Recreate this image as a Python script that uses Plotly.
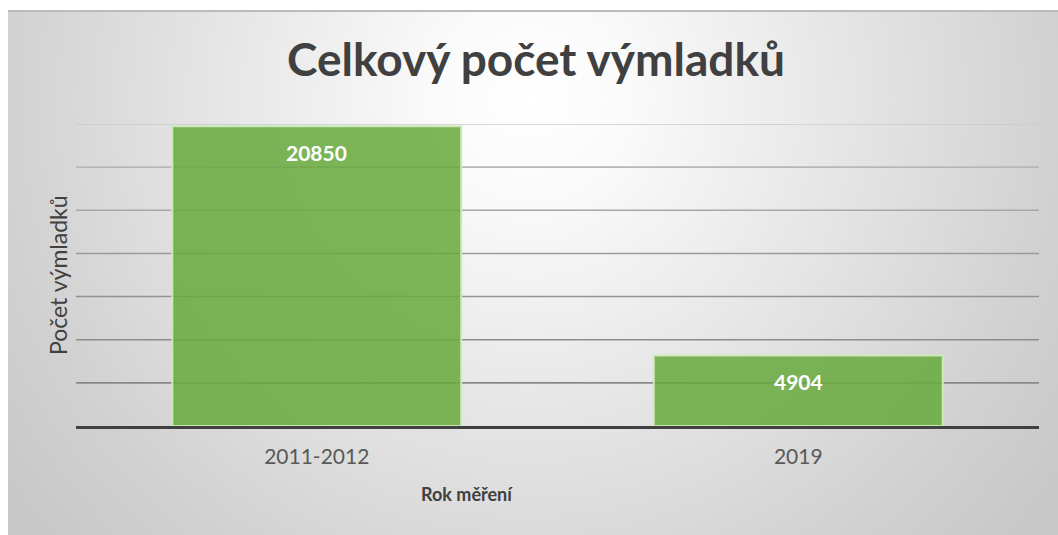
import base64
import plotly.graph_objects as go

# ---- data ----
categories = ["2011-2012", "2019"]
counts = [20850, 4904]
grid_values = [3000, 6000, 9000, 12000, 15000, 18000, 21000]
y_max = 21000

title_text = "Celkový počet výmladků"
x_title = "Rok měření"
y_title = "Počet výmladků"

W, H = 1058, 535
FONT = "Lato"


def fx(p):
    return p / W


def fy(p):
    return 1 - p / H


# background radial gradient as an inline SVG image
svg = """<svg xmlns="http://www.w3.org/2000/svg" width="1050" height="525">
<defs><radialGradient id="g" gradientUnits="userSpaceOnUse" cx="522" cy="90" r="650">
<stop offset="0" stop-color="#ffffff"/>
<stop offset="0.15" stop-color="#fafafa"/>
<stop offset="0.8" stop-color="#d2d2d2"/>
<stop offset="1" stop-color="#c8c8c8"/>
</radialGradient></defs>
<rect width="1050" height="525" fill="url(#g)"/>
<rect width="1050" height="2" fill="#bcbcbc"/>
</svg>"""
svg_uri = "data:image/svg+xml;base64," + base64.b64encode(svg.encode("utf-8")).decode("ascii")

fig = go.Figure()
fig.add_trace(
    go.Bar(
        x=categories,
        y=counts,
        marker=dict(
            color="rgba(104,170,62,0.86)",
            line=dict(color="rgba(205,235,185,0.95)", width=2),
        ),
        hoverinfo="skip",
    )
)

# gridlines, fading towards the top
shapes = []
for v in grid_values:
    t = v / y_max
    c = int(136 + 66 * t ** 2.2)
    shapes.append(
        dict(
            type="line",
            xref="x domain",
            yref="y",
            x0=0,
            x1=1,
            y0=v,
            y1=v,
            line=dict(color=f"rgb({c},{c},{c})", width=1.6),
            layer="below",
        )
    )

annotations = []
for i, v in enumerate(counts):
    annotations.append(
        dict(
            x=i,
            y=v,
            xref="x",
            yref="y",
            text=f"<b>{v}</b>",
            showarrow=False,
            yanchor="top",
            yshift=-12,
            font=dict(family=FONT, size=21, color="#ffffff"),
        )
    )

annotations.append(
    dict(
        x=fx(58),
        y=fy(275),
        xref="paper",
        yref="paper",
        text=y_title,
        textangle=-90,
        showarrow=False,
        xanchor="center",
        yanchor="middle",
        font=dict(family=FONT, size=23, color="#404040"),
    )
)
annotations.append(
    dict(
        x=fx(467),
        y=fy(494),
        xref="paper",
        yref="paper",
        text=f"<b>{x_title}</b>",
        showarrow=False,
        xanchor="center",
        yanchor="middle",
        font=dict(family=FONT, size=18, color="#404040"),
    )
)

fig.update_layout(
    width=W,
    height=H,
    margin=dict(l=0, r=0, t=0, b=0),
    paper_bgcolor="#ffffff",
    plot_bgcolor="rgba(0,0,0,0)",
    showlegend=False,
    bargap=0.4,
    title=dict(
        text=f"<b>{title_text}</b>",
        x=fx(536),
        xanchor="center",
        y=fy(60),
        yanchor="middle",
        yref="container",
        font=dict(family=FONT, size=46, color="#404040"),
    ),
    images=[
        dict(
            source=svg_uri,
            xref="paper",
            yref="paper",
            x=fx(8),
            y=fy(10),
            sizex=1050 / W,
            sizey=525 / H,
            xanchor="left",
            yanchor="top",
            sizing="stretch",
            layer="below",
        )
    ],
    shapes=shapes,
    annotations=annotations,
    xaxis=dict(
        type="category",
        range=[-0.5, len(categories) - 0.5],
        domain=[fx(76), fx(1039)],
        showline=True,
        linecolor="#404040",
        linewidth=3,
        ticks="outside",
        ticklen=10,
        tickcolor="rgba(0,0,0,0)",
        tickfont=dict(family=FONT, size=21, color="#595959"),
        showgrid=False,
        automargin=False,
        fixedrange=True,
    ),
    yaxis=dict(
        domain=[fy(426), fy(124)],
        range=[0, y_max],
        showgrid=False,
        showticklabels=False,
        zeroline=False,
        showline=False,
        automargin=False,
        fixedrange=True,
    ),
)

fig.write_html("out.html")
